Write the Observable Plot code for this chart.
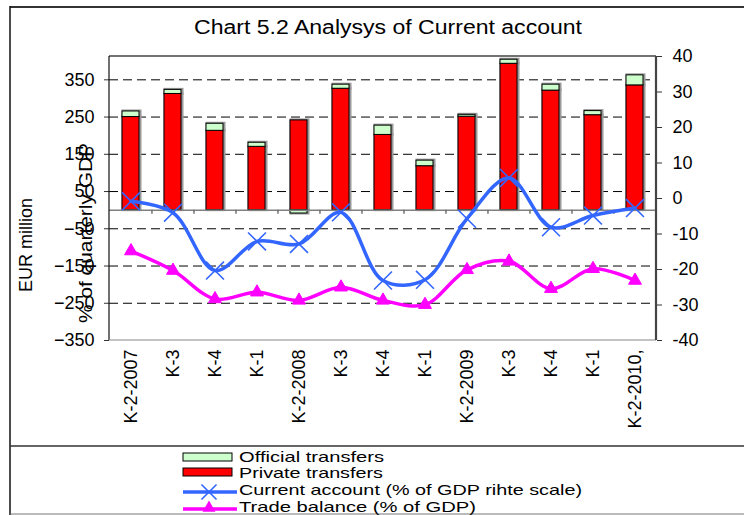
<!DOCTYPE html>
<html><head><meta charset="utf-8">
<script src="https://cdn.jsdelivr.net/npm/d3@7"></script>
<script src="https://cdn.jsdelivr.net/npm/@observablehq/plot@0.6"></script>
<style>
body{margin:0;background:#fff}
#wrap{position:relative;width:744px;height:515px;overflow:hidden;background:#fff}
#wrap svg{position:absolute;left:0;top:0}
</style>
</head><body><div id="wrap"></div>
<script>
// ---- data ----
const xLabels = ["K-2-2007","K-3","K-4","K-1","K-2-2008","K-3","K-4","K-1","K-2-2009","K-3","K-4","K-1","K-2-2010,"];
const privateTransfers = [250, 312, 213, 170, 241, 326, 202, 118, 251, 393, 321, 255, 335];
const officialTransfers = [15, 11, 19, 11, -9, 11, 25, 15, 5, 11, 16, 11, 27];
const currentAccount = [-0.8, -4.0, -20.3, -12.1, -12.8, -3.9, -23.1, -22.9, -5.7, 5.8, -8.1, -4.8, -2.7];
const tradeBalance = [-14.8, -20.3, -28.3, -26.4, -28.7, -25.0, -28.7, -29.9, -20.1, -17.7, -25.4, -19.8, -23.1];
const leftTicks = [350, 250, 150, 50, -50, -150, -250, -350];
const gridTicks = [350, 250, 150, 50, -50, -150, -250];
const rightTicks = [40, 30, 20, 10, 0, -10, -20, -30, -40];

const W = 744, H = 515;
const mL = 109, mR = 88, mT = 56, mB = 175;
const leftDomain = [-350, 412.6];
const rightDomain = [-40, 40];
const toLeft = r => leftDomain[0] + (r - rightDomain[0]) * (leftDomain[1] - leftDomain[0]) / (rightDomain[1] - rightDomain[0]);
const fromLeft = l => rightDomain[0] + (l - leftDomain[0]) * (rightDomain[1] - rightDomain[0]) / (leftDomain[1] - leftDomain[0]);

const idx = xLabels.map((_, i) => i);
const transfers = [
  ...idx.map(i => ({i, series: "Private transfers", value: privateTransfers[i]})),
  ...idx.map(i => ({i, series: "Official transfers", value: officialTransfers[i]}))
];
const ca = idx.map(i => ({i, v: toLeft(currentAccount[i])}));
const tb = idx.map(i => ({i, v: toLeft(tradeBalance[i])}));
const colorOf = s => s === "Private transfers" ? "#ff0000" : "#ccffcc";
const step = (W - mL - mR) / xLabels.length;
const blue = "#3366ff", magenta = "#ff00ff";

const chart = Plot.plot({
  width: W, height: H,
  marginLeft: mL, marginRight: mR, marginTop: mT, marginBottom: mB,
  style: {fontFamily: "Liberation Sans, Arial, sans-serif", color: "black", background: "transparent"},
  x: {type: "band", domain: idx, paddingInner: 0.6, paddingOuter: 0.3},
  y: {domain: leftDomain},
  marks: [
    Plot.ruleY(gridTicks, {stroke: "black", strokeWidth: 1, strokeDasharray: "9,5"}),
    Plot.barY(transfers, {x: "i", y: "value", z: "series", fill: "none", stroke: "#9a9a9a", strokeWidth: 3, dx: 1}),
    Plot.barY(transfers, {x: "i", y: "value", z: "series", fill: d => colorOf(d.series), stroke: "black", strokeWidth: 1}),
    Plot.ruleY([0], {stroke: "#808080", strokeWidth: 1.5}),
    Plot.ruleX(idx.slice(1), {x: d => d, dx: -step / 2, y1: 0, y2: -11, stroke: "#707070", strokeWidth: 1.5}),
    Plot.line(ca, {x: "i", y: "v", curve: "catmull-rom", stroke: blue, strokeWidth: 3.5}),
    Plot.dot(ca, {x: "i", y: "v", symbol: "times", r: 8.2, stroke: blue, strokeWidth: 1.6}),
    Plot.line(tb, {x: "i", y: "v", curve: "catmull-rom", stroke: magenta, strokeWidth: 3.5}),
    Plot.dot(tb, {x: "i", y: "v", symbol: "triangle", r: 4.8, fill: magenta, stroke: magenta, strokeWidth: 1}),
    Plot.axisY({anchor: "left", ticks: leftTicks, tickSize: 5, tickPadding: 10, fontSize: 18, label: null, stroke: "#333"}),
    Plot.axisY({anchor: "right", ticks: rightTicks.map(toLeft), tickFormat: d => String(Math.round(fromLeft(d))), tickSize: 5, tickPadding: 11, fontSize: 18, label: null, stroke: "#333"}),
    Plot.axisX({anchor: "bottom", tickFormat: i => xLabels[i], tickRotate: -90, tickSize: 0, tickPadding: 9, fontSize: 18, label: null})
  ]
});
document.getElementById("wrap").appendChild(chart);

// ---- overlay: borders, frame, titles, legend ----
const ov = d3.select("#wrap").append("svg").attr("width", W).attr("height", H)
  .style("font-family", "Liberation Sans, Arial, sans-serif");
const ln = (x1, y1, x2, y2, c, w) => ov.append("line").attr("x1", x1).attr("y1", y1).attr("x2", x2).attr("y2", y2).attr("stroke", c).attr("stroke-width", w);
// outer borders
ln(10, 7, 744, 7, "#333", 2);
ln(10, 6, 10, 515, "#111", 1.5);
ln(10, 446, 744, 446, "#333", 1.5);
ln(10, 514, 744, 514, "#777", 1);
// plot frame
ln(mL, mT, W - mR, mT, "#444", 1.5);
ln(mL, mT, mL, H - mB, "#111", 1.2);
ln(mL, H - mB, W - mR, H - mB, "#888", 1.2);
ln(W - mR, mT, W - mR, H - mB, "#444", 2.2);

// title
ov.append("text").attr("x", 194).attr("y", 34).attr("font-size", 20)
  .attr("textLength", 388).attr("lengthAdjust", "spacingAndGlyphs")
  .text("Chart 5.2 Analysys of Current account");

// axis titles
ov.append("text").attr("transform", "translate(26,245) rotate(-90)").attr("text-anchor", "middle")
  .attr("dy", "0.35em").attr("font-size", 18).text("EUR million");
ov.append("text").attr("transform", "translate(86,233) rotate(-90)").attr("text-anchor", "middle")
  .attr("dy", "0.35em").attr("font-size", 18).attr("textLength", 180).attr("lengthAdjust", "spacingAndGlyphs")
  .text("% of quarterly GDP");

// legend
const lgX = 183, lgW = 49, txX = 239;
ov.append("rect").attr("x", lgX).attr("y", 453).attr("width", lgW).attr("height", 8).attr("fill", "#ccffcc").attr("stroke", "black");
ov.append("rect").attr("x", lgX).attr("y", 468).attr("width", lgW).attr("height", 8).attr("fill", "#ff0000").attr("stroke", "black");
ln(lgX, 492, lgX + 54, 492, blue, 3.5);
ov.append("path").attr("transform", `translate(${lgX + 26},492)`).attr("d", d3.symbol(d3.symbolTimes, 150)()).attr("stroke", blue).attr("stroke-width", 1.6).attr("fill", "none");
ln(lgX, 509, lgX + 54, 509, magenta, 3.5);
ov.append("path").attr("transform", `translate(${lgX + 26},508)`).attr("d", d3.symbol(d3.symbolTriangle, 72)()).attr("fill", magenta);
const legendItems = [
  ["Official transfers", 462, 145],
  ["Private transfers", 478, 144],
  ["Current account (% of GDP rihte scale)", 495, 343],
  ["Trade balance (% of GDP)", 512, 237]
];
legendItems.forEach(([t, y, len]) => {
  ov.append("text").attr("x", txX).attr("y", y).attr("font-size", 14.5)
    .attr("textLength", len).attr("lengthAdjust", "spacingAndGlyphs").text(t);
});
</script></body></html>
